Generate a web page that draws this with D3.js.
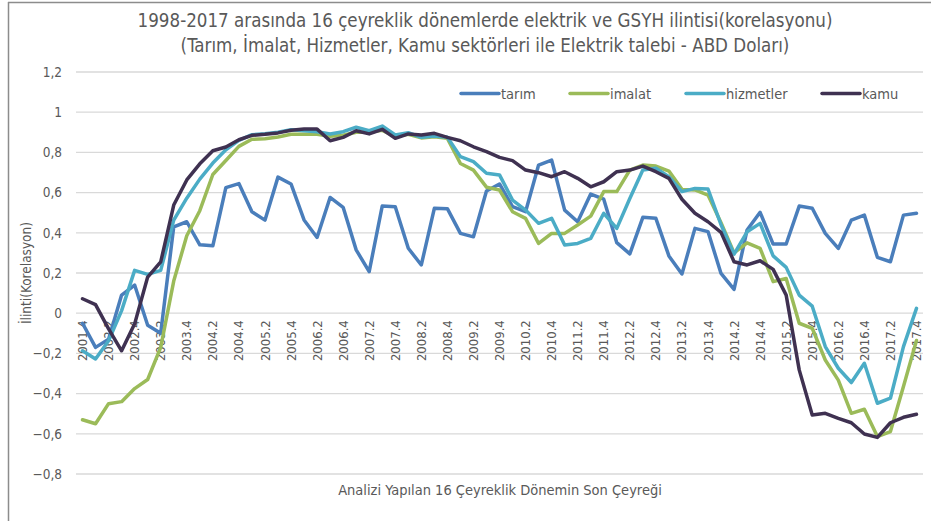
<!DOCTYPE html>
<html><head><meta charset="utf-8">
<script src="https://cdn.jsdelivr.net/npm/d3@7/dist/d3.min.js"></script>
<style>
html,body{margin:0;padding:0;background:#fff;}
svg text{font-family:"DejaVu Sans Condensed","DejaVu Sans",sans-serif;font-stretch:condensed;fill:#595959;}
</style></head>
<body><svg id="c" width="931" height="521"></svg>
<script>
const quarters = ["2001.4","2002.1","2002.2","2002.3","2002.4","2003.1","2003.2","2003.3","2003.4","2004.1","2004.2","2004.3","2004.4","2005.1","2005.2","2005.3","2005.4","2006.1","2006.2","2006.3","2006.4","2007.1","2007.2","2007.3","2007.4","2008.1","2008.2","2008.3","2008.4","2009.1","2009.2","2009.3","2009.4","2010.1","2010.2","2010.3","2010.4","2011.1","2011.2","2011.3","2011.4","2012.1","2012.2","2012.3","2012.4","2013.1","2013.2","2013.3","2013.4","2014.1","2014.2","2014.3","2014.4","2015.1","2015.2","2015.3","2015.4","2016.1","2016.2","2016.3","2016.4","2017.1","2017.2","2017.3","2017.4"];

const tarim = [-0.05,-0.17,-0.13,0.09,0.14,-0.06,-0.10,0.43,0.455,0.34,0.335,0.625,0.645,0.505,0.463,0.677,0.643,0.464,0.377,0.576,0.527,0.315,0.207,0.533,0.53,0.323,0.24,0.522,0.52,0.397,0.38,0.608,0.643,0.53,0.505,0.737,0.762,0.513,0.455,0.593,0.567,0.351,0.295,0.477,0.472,0.285,0.195,0.422,0.406,0.198,0.119,0.414,0.502,0.344,0.344,0.533,0.522,0.397,0.322,0.463,0.488,0.278,0.256,0.488,0.497];

const imalat = [-0.53,-0.55,-0.45,-0.44,-0.375,-0.33,-0.17,0.16,0.385,0.51,0.69,0.76,0.83,0.865,0.868,0.877,0.89,0.89,0.89,0.88,0.885,0.9,0.9,0.91,0.88,0.89,0.872,0.878,0.87,0.745,0.712,0.627,0.613,0.505,0.472,0.347,0.397,0.397,0.439,0.483,0.605,0.605,0.712,0.737,0.732,0.707,0.616,0.613,0.588,0.45,0.30,0.35,0.323,0.157,0.173,-0.05,-0.075,-0.233,-0.333,-0.498,-0.478,-0.614,-0.589,-0.365,-0.136];

const hizmetler = [-0.187,-0.228,-0.137,0.013,0.213,0.193,0.213,0.463,0.572,0.667,0.747,0.813,0.86,0.888,0.893,0.9,0.913,0.908,0.903,0.892,0.903,0.925,0.908,0.931,0.887,0.898,0.875,0.882,0.875,0.779,0.754,0.696,0.688,0.563,0.513,0.447,0.472,0.339,0.347,0.372,0.497,0.422,0.571,0.712,0.721,0.679,0.605,0.621,0.618,0.44,0.294,0.405,0.447,0.285,0.228,0.09,0.035,-0.166,-0.274,-0.345,-0.249,-0.448,-0.423,-0.166,0.024];

const kamu = [0.072,0.043,-0.078,-0.187,-0.053,0.18,0.255,0.538,0.663,0.743,0.808,0.827,0.863,0.885,0.89,0.897,0.91,0.916,0.916,0.858,0.875,0.908,0.892,0.915,0.87,0.892,0.887,0.895,0.875,0.858,0.828,0.804,0.775,0.759,0.712,0.699,0.679,0.704,0.671,0.629,0.654,0.704,0.712,0.732,0.704,0.671,0.567,0.497,0.455,0.402,0.256,0.24,0.261,0.218,0.09,-0.282,-0.506,-0.498,-0.523,-0.545,-0.601,-0.618,-0.545,-0.518,-0.503];

const seriesNames = ["tarım","imalat","hizmetler","kamu"];
const seriesColors = ["#4a7ebb","#9bbb59","#4bacc6","#3f3151"];
const yTicks = [-0.8,-0.6,-0.4,-0.2,0,0.2,0.4,0.6,0.8,1,1.2];
const titleLines = ["1998-2017 arasında 16 çeyreklik dönemlerde elektrik ve GSYH ilintisi(korelasyonu)","(Tarım, İmalat, Hizmetler, Kamu sektörleri ile Elektrik talebi - ABD Doları)"];
const yTitle = "İlinti(Korelasyon)";
const xTitle = "Analizi Yapılan 16 Çeyreklik Dönemin Son Çeyreği";

const seriesData = [tarim, imalat, hizmetler, kamu];
const svg = d3.select("#c");

// frame
svg.append("rect").attr("x",0).attr("y",0).attr("width",931).attr("height",521).attr("fill","#fff");
svg.append("line").attr("x1",8.5).attr("x2",8.5).attr("y1",2).attr("y2",521).attr("stroke","#8c8c8c").attr("stroke-width",1.5);
svg.append("line").attr("x1",8).attr("x2",931).attr("y1",2.5).attr("y2",2.5).attr("stroke","#8c8c8c").attr("stroke-width",1.5);

const x = d3.scaleBand().domain(quarters).range([76, 923]);
const y = d3.scaleLinear().domain([-0.8, 1.2]).range([474, 72]);
const fmt = v => d3.format(".1f")(v).replace(".", ",").replace(/,0$/, "").replace(/^-0$/, "0");

// gridlines
svg.append("g").selectAll("line").data(yTicks).join("line")
  .attr("x1",76).attr("x2",923)
  .attr("y1",d=>y(d)).attr("y2",d=>y(d))
  .attr("stroke","#d9d9d9").attr("stroke-width",1.3);

// y axis labels
const yAxis = d3.axisLeft(y).tickValues(yTicks).tickSize(0).tickPadding(0).tickFormat(d => fmt(d));
const gy = svg.append("g").attr("transform","translate(62,0)").call(yAxis);
gy.select(".domain").remove();
gy.selectAll("text").style("font-size","13.5px").attr("fill","#595959");

// x axis labels (every other category) at y=0
const xAxis = d3.axisBottom(x).tickValues(quarters.filter((q,i)=>i%2===0)).tickSize(0).tickPadding(0);
const gx = svg.append("g").attr("transform",`translate(0,${y(0)})`).call(xAxis);
gx.select(".domain").remove();
gx.selectAll("text")
  .attr("transform","rotate(-90)")
  .attr("x",-7).attr("y",0).attr("dy","0.35em")
  .style("text-anchor","end")
  .style("font-size","13px").attr("fill","#595959");

// lines
const line = d3.line().x((d,i)=>x(quarters[i]) + x.bandwidth()/2).y(d=>y(d));
seriesData.forEach((s,k)=>{
  svg.append("path").datum(s).attr("d",line)
    .attr("fill","none").attr("stroke",seriesColors[k]).attr("stroke-width",3.5)
    .attr("stroke-linejoin","round").attr("stroke-linecap","round");
});

// title
svg.append("g").selectAll("text").data(titleLines).join("text")
  .attr("x",485).attr("y",(d,i)=>27+i*25)
  .attr("text-anchor","middle").style("font-size","18.6px").text(d=>d);

// legend
const legX = [461, 570, 686, 822];
seriesNames.forEach((n,k)=>{
  const g = svg.append("g").attr("transform",`translate(${legX[k]},93.5)`);
  g.append("line").attr("x1",0).attr("x2",38).attr("y1",0).attr("y2",0)
    .attr("stroke",seriesColors[k]).attr("stroke-width",3.5).attr("stroke-linecap","round");
  g.append("text").attr("x",40).attr("y",0).attr("dy","0.35em").style("font-size","14.5px").text(n);
});

// axis titles
svg.append("text").attr("transform","translate(26,273) rotate(-90)")
  .attr("text-anchor","middle").attr("dy","0.35em").style("font-size","13.5px").text(yTitle);
svg.append("text").attr("x",500).attr("y",490).attr("dy","0.35em")
  .attr("text-anchor","middle").style("font-size","14.5px").text(xTitle);
</script></body></html>
